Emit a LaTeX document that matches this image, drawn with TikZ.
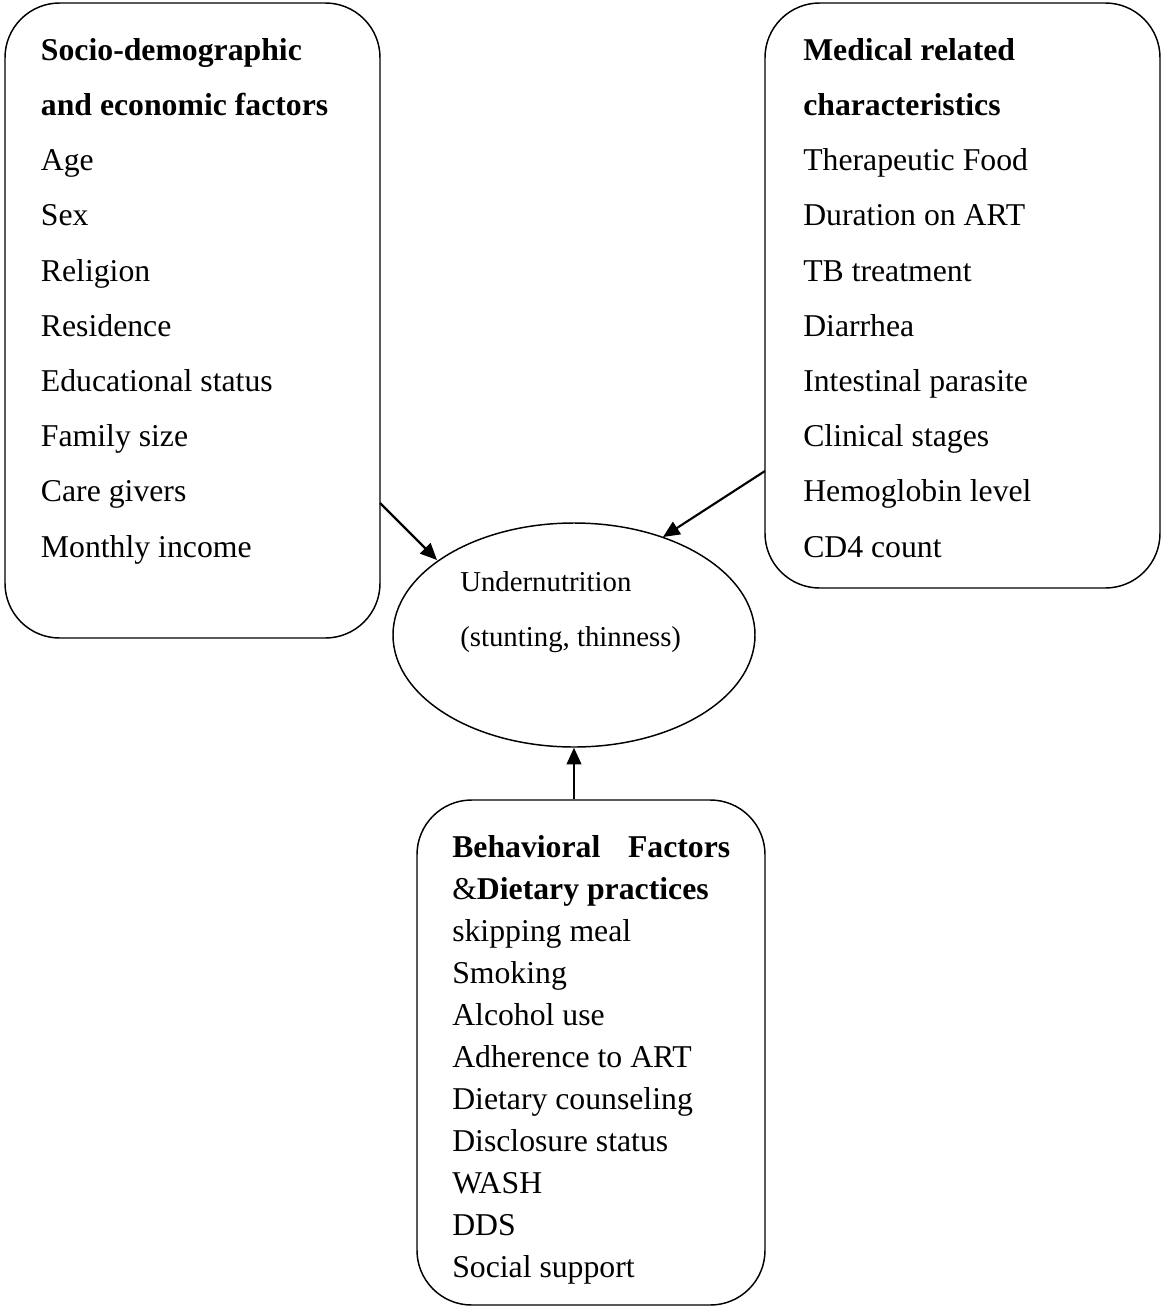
\documentclass[tikz,border=0pt]{standalone}
\usepackage{fontspec}
\setmainfont{Liberation Serif}
\usetikzlibrary{shapes.geometric,arrows.meta,positioning}
\tikzset{
  factorbox/.style  = {rectangle, rounded corners=41pt, draw, line width=1.1pt},
  factortext/.style = {anchor=north west, align=left, inner sep=0pt,
                       font=\fontsize{23.8}{41.4}\selectfont},
  behavtext/.style  = {factortext, font=\fontsize{23.8}{31.5}\selectfont},
  outcome/.style    = {ellipse, draw, line width=1.1pt,
                       minimum width=271.5pt, minimum height=168pt},
  outcometext/.style = {anchor=north west, align=left, inner sep=0pt,
                       font=\fontsize{21.6}{41.4}\selectfont},
  flow/.style = {-{Triangle[length=12.5pt,width=11pt]}, line width=1.6pt},
}
\begin{document}
\begin{tikzpicture}[x=0.75pt,y=-0.75pt]
\useasboundingbox (0,0) rectangle (1163,1307);
% factor boxes
\node[factorbox, minimum width=281.25pt, minimum height=476.25pt] (socio) at (192.5,320.5) {};
\node[factorbox, minimum width=296.25pt, minimum height=438.75pt] (medical) at (962.5,295.5) {};
\node[factorbox, minimum width=261pt, minimum height=378.75pt] (behav) at (591,1052.5) {};
\node[outcome] (under) at (574,635) {};
% box contents
\node[factortext] (sociolist) at (40.7,38) {\textbf{Socio-demographic}\\\textbf{and economic factors}\\Age\\Sex\\Religion\\Residence\\Educational status\\Family size\\Care givers\\Monthly income};
\node[factortext] (medlist) at (803,38) {\textbf{Medical related}\\\textbf{characteristics}\\Therapeutic Food\\Duration on ART\\TB treatment\\Diarrhea\\Intestinal parasite\\Clinical stages\\Hemoglobin level\\CD4 count};
\node[behavtext] (behavlist) at (452,835) {\makebox[208.5pt][s]{\bfseries Behavioral Factors}\\\&\textbf{Dietary practices}\\skipping meal\\Smoking\\Alcohol use\\Adherence to ART\\Dietary counseling\\Disclosure status\\WASH\\DDS\\Social support};
\node[outcometext] (underlabel) at (460,571) {Undernutrition\\(stunting, thinness)};
% arrows into the outcome
\coordinate (sociotail) at (380,503);
\coordinate (sociohead) at (437,560);
\coordinate (medtail) at (765,471);
\coordinate (medhead) at (663,537);
\draw[flow] (sociotail) -- (sociohead);
\draw[flow] (medtail) -- (medhead);
\draw[flow] (under.south |- behav.north) -- (under.south);
\end{tikzpicture}
\end{document}
